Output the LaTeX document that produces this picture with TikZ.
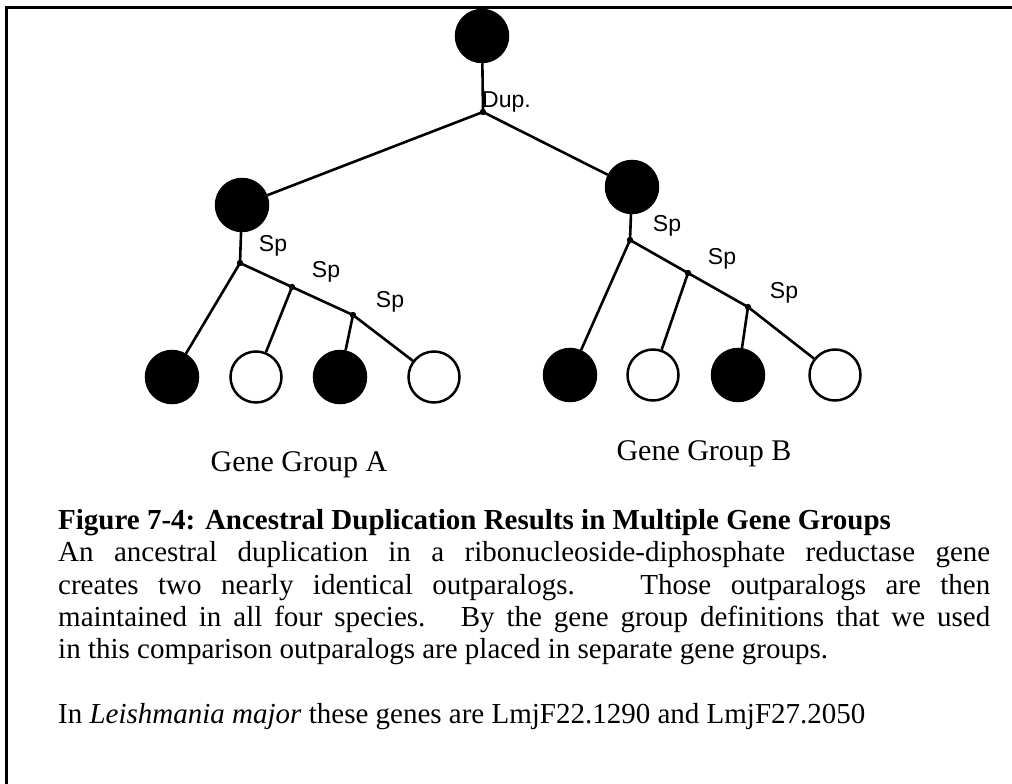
\documentclass[tikz,border=0pt]{standalone}
\usepackage{fontspec}
\setmainfont{Liberation Serif}
\newfontfamily\labelfont{Liberation Sans}
\begin{document}
\begin{tikzpicture}[x=1pt,y=-1pt,
  full/.style={circle, fill=black, draw=black, line width=2.5pt, minimum size=52pt, inner sep=0pt},
  hollow/.style={circle, fill=white, draw=black, line width=2.5pt, minimum size=51pt, inner sep=0pt},
  branch/.style={line width=2.6pt},
  tag/.style={font=\labelfont\fontsize{23}{23}\selectfont, inner sep=0pt},
  group/.style={font=\fontsize{30}{30}\selectfont, inner sep=0pt, anchor=base},
  capline/.style={inner sep=0pt, anchor=base west, font=\fontsize{29}{29}\selectfont},
]
\fill[white] (0,0) rectangle (1012,784);
\useasboundingbox (0,0) rectangle (1012,784);

% frame: top and left rules
\draw[line width=3pt] (6,784) -- (6,8) -- (1012,8);

% ancestral gene and the two outparalogs
\node[full] (root) at (482,36) {};
\coordinate (dup) at (483,112);
\node[full] (ga) at (242,205) {};
\node[full] (gb) at (632,187) {};

% speciation points
\coordinate (a1) at (240,263);
\coordinate (a2) at (292,287);
\coordinate (a3) at (353,315);
\coordinate (b1) at (630,240);
\coordinate (b2) at (688,273);
\coordinate (b3) at (748,307);

% genes in the four species
\node[full]   (la1) at (172,377) {};
\node[hollow] (la2) at (256,377) {};
\node[full]   (la3) at (340,377) {};
\node[hollow] (la4) at (434,377) {};
\node[full]   (lb1) at (570,375) {};
\node[hollow] (lb2) at (653,375) {};
\node[full]   (lb3) at (738,375) {};
\node[hollow] (lb4) at (835,375) {};

% tree branches
\draw[branch] (root) -- (dup);
\draw[branch] (ga) -- (dup) -- (gb);
\draw[branch] (ga) -- (a1) -- (a2) -- (a3) -- (la4);
\draw[branch] (a1) -- (la1);
\draw[branch] (a2) -- (la2);
\draw[branch] (a3) -- (la3);
\draw[branch] (gb) -- (b1) -- (b2) -- (b3) -- (lb4);
\draw[branch] (b1) -- (lb1);
\draw[branch] (b2) -- (lb2);
\draw[branch] (b3) -- (lb3);
\foreach \p in {dup,a1,a2,a3,b1,b2,b3} \fill (\p) circle (3.2);

% event labels
\node[tag, anchor=west] (dupl) at (482,102) {Dup.};
\node[tag] (sa1) at (273,246) {Sp};
\node[tag] (sa2) at (326,272) {Sp};
\node[tag] (sa3) at (390,302) {Sp};
\node[tag] (sb1) at (667,226) {Sp};
\node[tag] (sb2) at (722,259) {Sp};
\node[tag] (sb3) at (784,293) {Sp};

% group names
\node[group] (grpa) at (299,471) {Gene Group A};
\node[group] (grpb) at (704,460) {Gene Group B};

% caption
\node[capline] (c1) at (58,529) {\bfseries Figure 7-4: Ancestral Duplication Results in Multiple Gene Groups};
\node[capline] (c2) at (58,561) {\makebox[932pt][s]{An ancestral duplication in a ribonucleoside-diphosphate reductase gene}};
\node[capline] (c3) at (58,594) {\makebox[932pt][s]{creates two nearly identical outparalogs. \ Those outparalogs are then}};
\node[capline] (c4) at (58,626) {\makebox[932pt][s]{maintained in all four species. \ By the gene group definitions that we used}};
\node[capline] (c5) at (58,658) {in this comparison outparalogs are placed in separate gene groups.};
\node[capline] (c6) at (58,723) {In \textit{Leishmania major} these genes are LmjF22.1290 and LmjF27.2050};
\end{tikzpicture}
\end{document}
